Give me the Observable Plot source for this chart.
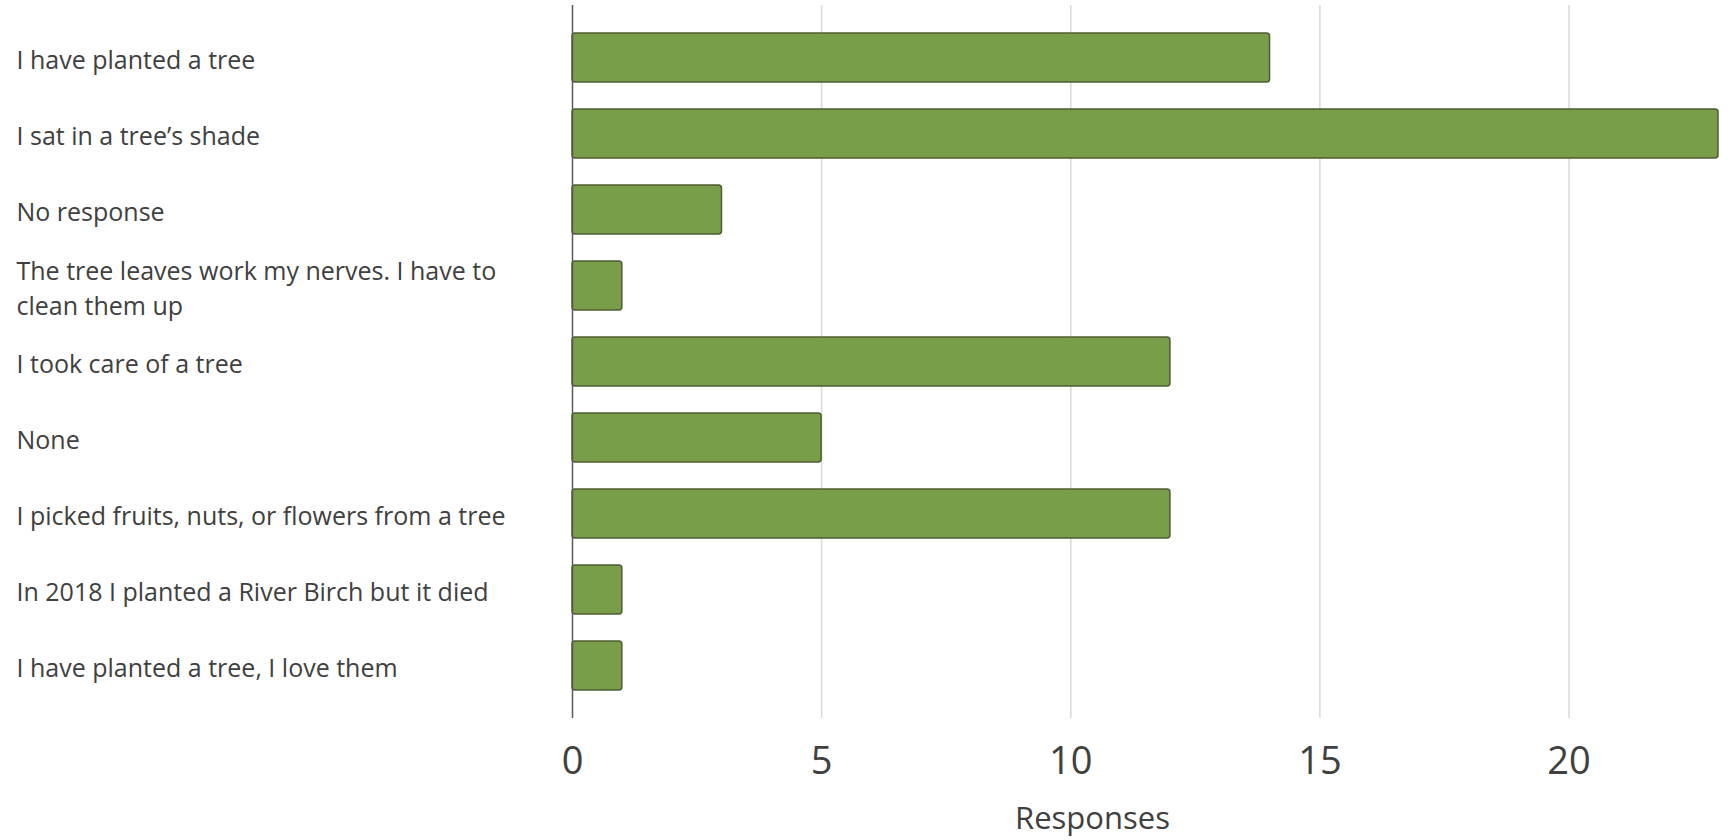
<!DOCTYPE html>
<html>
<head>
<meta charset="utf-8">
<script src="https://cdn.jsdelivr.net/npm/d3@7"></script>
<script src="https://cdn.jsdelivr.net/npm/@observablehq/plot@0.6"></script>
<style>
  html, body { margin: 0; padding: 0; background: #ffffff; }
</style>
</head>
<body>
<div id="chart"></div>
<script>
const categories = [
  "I have planted a tree",
  "I sat in a tree’s shade",
  "No response",
  "The tree leaves work my nerves. I have to\nclean them up",
  "I took care of a tree",
  "None",
  "I picked fruits, nuts, or flowers from a tree",
  "In 2018 I planted a River Birch but it died",
  "I have planted a tree, I love them"
];
const values = [14, 23, 3, 1, 12, 5, 12, 1, 1];
const xTicks = [0, 5, 10, 15, 20];
const xLabel = "Responses";

const data = categories.map((c, i) => ({category: c, value: values[i]}));

const chart = Plot.plot({
  width: 1729,
  height: 840,
  marginTop: 5,
  marginBottom: 122,
  marginLeft: 572,
  marginRight: 11,
  style: {fontFamily: "'Open Sans', sans-serif", color: "#404040", background: "#ffffff"},
  x: {domain: [0, 23]},
  y: {domain: categories, padding: 0.35},
  marks: [
    Plot.gridX(xTicks.slice(1), {stroke: "#d9d9d9", strokeOpacity: 1, strokeWidth: 1.5}),
    Plot.barX(data, {x: "value", y: "category", fill: "#789e4a", stroke: "#4d5c33", strokeWidth: 1.5, rx: 3}),
    Plot.ruleX([0], {stroke: "#595959", strokeWidth: 1.5}),
    Plot.axisX({ticks: xTicks, tickSize: 0, tickPadding: 29, fontSize: 38, label: null, fill: "#404040"}),
    Plot.axisY({tickSize: 0, tickPadding: 556, textAnchor: "start", fontSize: 25, lineHeight: 1.4, label: null, fill: "#404040"}),
    Plot.text([xLabel], {frameAnchor: "bottom", dy: 110, dx: -53, fontSize: 31, fill: "#404040"})
  ]
});
document.getElementById("chart").appendChild(chart);
</script>
</body>
</html>
